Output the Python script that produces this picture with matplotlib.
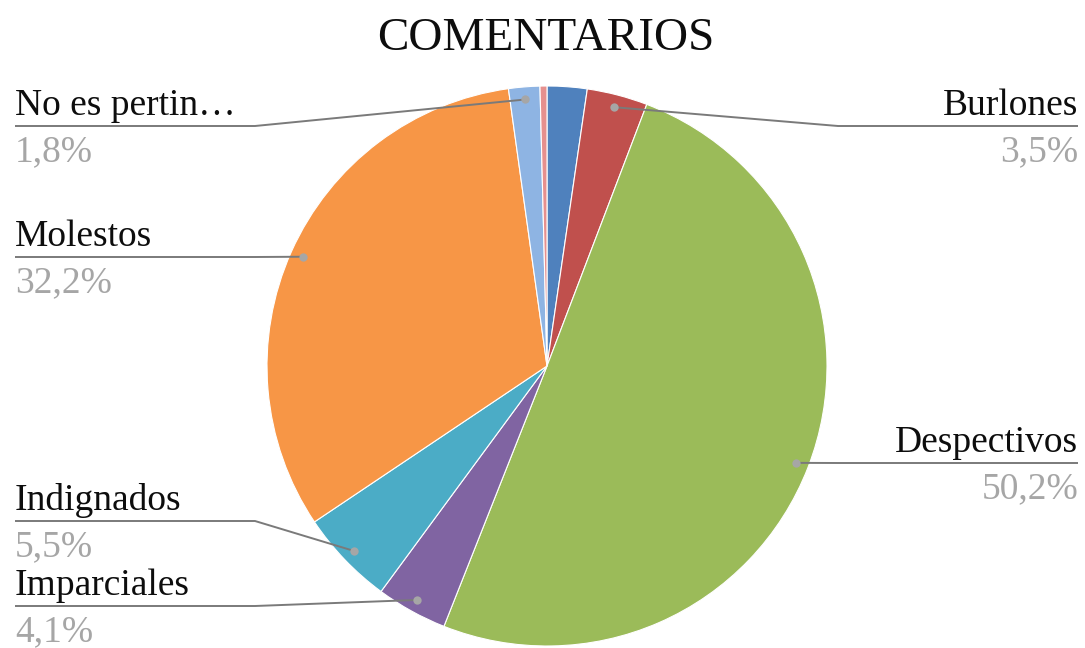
import matplotlib
matplotlib.use('Agg')
import matplotlib.pyplot as plt
import numpy as np

plt.rcParams['font.family'] = ['Liberation Serif', 'DejaVu Serif']

# slices, clockwise from 12 o'clock
categories = ['', 'Burlones', 'Despectivos', 'Imparciales', 'Indignados',
              'Molestos', 'No es pertin…', '']
values = [2.3, 3.5, 50.2, 4.1, 5.5, 32.2, 1.8, 0.4]
colors = ['#4F81BD', '#C0504D', '#9BBB59', '#8064A2', '#4BACC6',
          '#F79646', '#8EB4E3', '#E6908E']

# label layout (pixels from top), '' = no label
label_side = ['', 'right', 'right', 'left', 'left', 'left', 'left', '']
label_line_y = [None, 126, 463, 606, 521, 257, 126, None]

W, H = 1085, 648
fig = plt.figure(figsize=(W / 100, H / 100), dpi=100)
ax = fig.add_axes([0, 0, 1, 1])

cx, cy, R = 547, H - 366, 280
wedges, _ = ax.pie(values, colors=colors, startangle=90, counterclock=False,
                   center=(cx, cy), radius=R,
                   wedgeprops=dict(edgecolor='white', linewidth=0.8))
ax.set_xlim(0, W)
ax.set_ylim(0, H)
ax.set_aspect('equal')
ax.axis('off')

line_col = '#7a7a7a'
for w, name, v, side, ly in zip(wedges, categories, values, label_side, label_line_y):
    if not side:
        continue
    mid = np.deg2rad((w.theta1 + w.theta2) / 2)
    dx, dy = cx + 0.955 * R * np.cos(mid), cy + 0.955 * R * np.sin(mid)
    y = H - ly
    if side == 'right':
        xs = [dx, max(dx, 838), 1078]
        tx, ha = 1078, 'right'
    else:
        xs = [dx, min(dx, 255), 15]
        tx, ha = 15, 'left'
    ax.plot(xs, [dy, y, y], color=line_col, lw=1.4, solid_capstyle='butt', zorder=3)
    ax.plot(dx, dy, 'o', ms=6, color='#A6A6A6', mec='none', zorder=4)
    ax.text(tx, y + 11, name, ha=ha, va='baseline', fontsize=27, color='#0d0d0d')
    pct = '{0:.1f}%'.format(v).replace('.', ',')
    ax.text(tx, y - 35, pct, ha=ha, va='baseline', fontsize=27, color='#A6A6A6')

fig.text(546 / W, (H - 50) / H, 'COMENTARIOS', ha='center', va='baseline',
         fontsize=34, color='#0d0d0d')

fig.savefig('out.png', dpi=100)
